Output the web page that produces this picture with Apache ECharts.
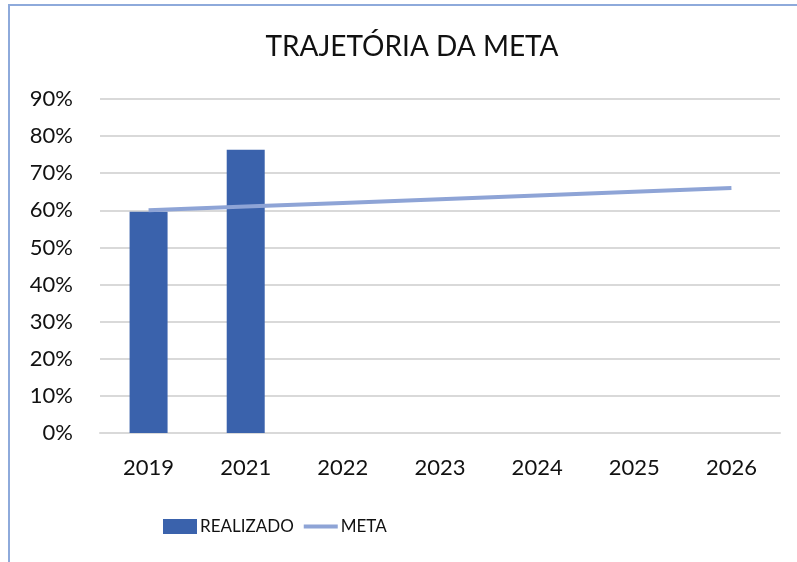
<!DOCTYPE html>
<html>
<head>
<meta charset="utf-8">
<script src="https://cdn.jsdelivr.net/npm/echarts@6/dist/echarts.min.js"></script>
<style>
  html, body { margin: 0; padding: 0; background: #fff; overflow: hidden; }
  #frame { position: absolute; left: 8px; top: 4px; width: 900px; height: 700px;
           border-left: 2px solid #8eaadb; border-top: 2px solid #8eaadb; }
  #chart { position: absolute; left: 0; top: 0; width: 797px; height: 562px; }
</style>
</head>
<body>
<div id="frame"></div>
<div id="chart"></div>
<script>
const years = ['2019', '2021', '2022', '2023', '2024', '2025', '2026'];
const realizado = [0.596, 0.763, null, null, null, null, null];
const meta = [0.60, 0.61, 0.62, 0.63, 0.64, 0.65, 0.66];

const font = 'Lato, "Noto Sans", sans-serif';
const chart = echarts.init(document.getElementById('chart'));

chart.setOption({
  animation: false,
  title: {
    text: 'TRAJETÓRIA DA META',
    left: 407,
    textAlign: 'center',
    top: 28,
    textStyle: { fontFamily: font, fontSize: 28, fontWeight: 'normal', color: '#111' }
  },
  legend: {
    bottom: 22,
    left: 158,
    itemGap: 10,
    itemWidth: 34,
    itemHeight: 15,
    textStyle: { fontFamily: font, fontSize: 17, color: '#111', padding: [0, 0, 0, -2] },
    data: [
      { name: 'REALIZADO', icon: 'rect' },
      { name: 'META', icon: 'path://M0,0 L36,0 L36,4 L0,4 Z' }
    ]
  },
  grid: { left: 100, right: 17, top: 99, bottom: 129 },
  xAxis: {
    type: 'category',
    data: years,
    axisLine: { show: true, lineStyle: { color: '#d9d9d9', width: 2 } },
    axisTick: { show: false },
    axisLabel: { margin: 24, fontFamily: font, fontSize: 22, color: '#111' }
  },
  yAxis: {
    type: 'value',
    min: 0,
    max: 0.9,
    interval: 0.1,
    axisLine: { show: false },
    axisTick: { show: false },
    splitLine: { lineStyle: { color: '#d9d9d9', width: 2 } },
    axisLabel: {
      margin: 27,
      fontFamily: font,
      fontSize: 22,
      color: '#111',
      formatter: v => Math.round(v * 100) + '%'
    }
  },
  series: [
    {
      name: 'REALIZADO',
      type: 'bar',
      data: realizado,
      barWidth: 38,
      itemStyle: { color: '#3a62ac' }
    },
    {
      name: 'META',
      type: 'line',
      data: meta,
      symbol: 'none',
      lineStyle: { color: '#8ea4d6', width: 4 },
      itemStyle: { color: '#8ea4d6' }
    }
  ]
});
</script>
</body>
</html>
